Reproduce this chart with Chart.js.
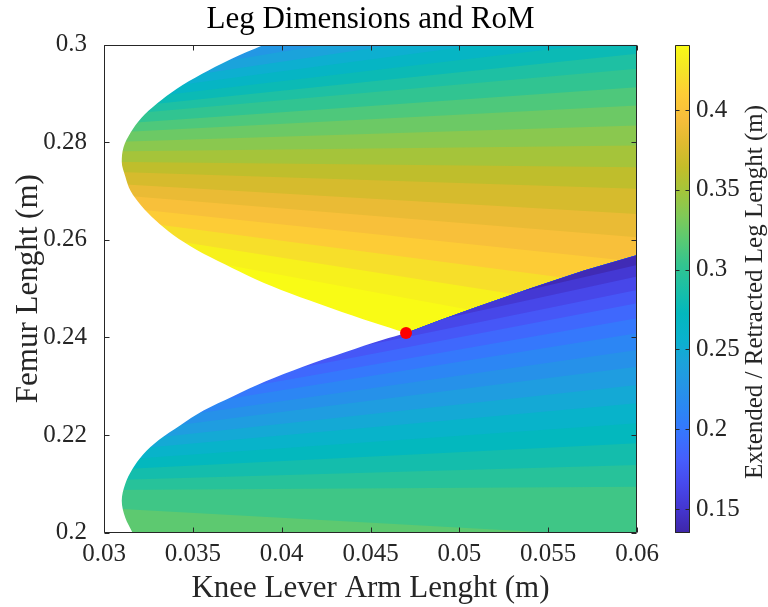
<!DOCTYPE html>
<html>
<head>
<meta charset="utf-8">
<script src="https://cdn.jsdelivr.net/npm/chart.js@4.4.1/dist/chart.umd.min.js"></script>
<style>
  html, body { margin: 0; padding: 0; background: #ffffff; }
  #wrap { position: relative; width: 768px; height: 607px; overflow: hidden; }
  #main { position: absolute; left: 0; top: 0; }
  #cbar { position: absolute; left: 640px; top: 0; }
</style>
</head>
<body>
<div id="wrap">
  <canvas id="main" width="768" height="607"></canvas>
  <canvas id="cbar" width="128" height="607"></canvas>
</div>
<script>
// ---------------- data ----------------
const xMin = 0.03, xMax = 0.06, yMin = 0.2, yMax = 0.3;
const xTickValues = [0.03, 0.035, 0.04, 0.045, 0.05, 0.055, 0.06];
const yTickValues = [0.2, 0.22, 0.24, 0.26, 0.28, 0.3];
const cbarMin = 0.135, cbarMax = 0.4407;
const cbarTicks = [0.15, 0.2, 0.25, 0.3, 0.35, 0.4];

// x positions where each iso-band edge is read (left and right side of the axes)
const xEdges = [0.03, 0.06];

// upper region (long femur): iso-band edges, y at x=0.03 and at x=0.06
const upperYAt003 = [0.2940, 0.2926, 0.2911, 0.2897, 0.2882, 0.2868, 0.2854, 0.2836, 0.2819, 0.2800,
                     0.2781, 0.2760, 0.2740, 0.2716, 0.2694, 0.2670, 0.2646, 0.2621, 0.2595];
const upperYAt006 = [0.3136, 0.3105, 0.3074, 0.3043, 0.3012, 0.29815, 0.29508, 0.29132, 0.28755, 0.28345,
                     0.27935, 0.27491, 0.27046, 0.26533, 0.26055, 0.2555, 0.2503, 0.2449, 0.2393];
// leg-length value of the band just below each upper edge
const upperBandValues = [0.230, 0.242, 0.254, 0.266, 0.278, 0.290, 0.302, 0.314, 0.326, 0.338,
                         0.350, 0.362, 0.374, 0.386, 0.398, 0.410, 0.422, 0.434, 0.441];
const upperTopValue = 0.218;

// lower region (short femur): iso-band edges, y at x=0.03 and at x=0.06
const lowerYAt003 = [0.2298, 0.2287, 0.2274, 0.2261, 0.2247, 0.2233, 0.2217, 0.2201, 0.2183, 0.2166,
                     0.2147, 0.2128, 0.2107, 0.2087, 0.2050];
const lowerYAt006 = [0.25487, 0.25247, 0.24974, 0.24702, 0.24394, 0.24086, 0.23744, 0.23401, 0.23026, 0.22650,
                     0.22240, 0.21830, 0.21385, 0.20940, 0.1990];
// leg-length value of the band just above each lower edge
const lowerBandValues = [0.140, 0.152, 0.164, 0.176, 0.188, 0.200, 0.212, 0.224, 0.236, 0.248,
                         0.260, 0.272, 0.284, 0.296, 0.308];
const lowerBottomValue = 0.320;

// curve separating the two regions
const sepX = [0.030, 0.040, 0.045, 0.047, 0.049, 0.051, 0.054, 0.057, 0.060];
const sepY = [0.232, 0.237, 0.2400, 0.2409, 0.2437, 0.2463, 0.2501, 0.2537, 0.2569];

// left edge of the feasible region, lower lobe (femur length -> knee lever arm)
const edgeLowY = [0.200, 0.203, 0.2065, 0.210, 0.213, 0.216, 0.219, 0.222, 0.225, 0.228, 0.231, 0.234, 0.237, 0.2395, 0.2409];
const edgeLowX = [0.0316, 0.0312, 0.0310, 0.0312, 0.0316, 0.0322, 0.0331, 0.0343, 0.0356, 0.0373, 0.0391, 0.0412, 0.0436, 0.0457, 0.0470];
// left edge of the feasible region, upper lobe
const edgeHighY = [0.2409, 0.243, 0.246, 0.249, 0.252, 0.255, 0.258, 0.261, 0.264, 0.267, 0.270, 0.273, 0.276,
                   0.279, 0.282, 0.285, 0.288, 0.291, 0.294, 0.297, 0.300];
const edgeHighX = [0.0470, 0.0452, 0.0428, 0.0405, 0.0385, 0.0368, 0.0352, 0.0339, 0.0329, 0.0321, 0.0315, 0.0312, 0.0310,
                   0.0311, 0.0315, 0.0321, 0.0330, 0.0341, 0.0355, 0.0371, 0.0390];

// chosen design point
const optimumX = 0.047, optimumY = 0.2409;

// ---------------- colormap (parula) ----------------
const PARULA = [
  [62,38,168],[68,54,208],[71,73,236],[70,94,252],[56,115,254],[44,133,245],[37,148,231],
  [27,163,219],[9,178,205],[3,184,189],[26,191,166],[51,196,143],[89,201,115],[128,201,87],
  [163,196,59],[196,189,41],[224,186,48],[247,189,59],[253,204,54],[245,229,38],[249,251,21]
];
function parulaT(t) {
  t = Math.max(0, Math.min(1, t));
  const f = t * (PARULA.length - 1);
  const i = Math.min(PARULA.length - 2, Math.floor(f));
  const w = f - i, a = PARULA[i], b = PARULA[i + 1];
  return 'rgb(' + Math.round(a[0] + (b[0] - a[0]) * w) + ',' + Math.round(a[1] + (b[1] - a[1]) * w) + ',' + Math.round(a[2] + (b[2] - a[2]) * w) + ')';
}
function parula(v) { return parulaT((v - cbarMin) / (cbarMax - cbarMin)); }

const fmt = v => String(parseFloat(Number(v).toFixed(4)));
const FONT = "'Liberation Serif', 'Times New Roman', serif";
Chart.defaults.font.family = FONT;
Chart.defaults.color = '#262626';

const NONE = 'rgba(0,0,0,0)';
const lineBase = { type: 'line', pointRadius: 0, pointHoverRadius: 0, borderWidth: 0, tension: 0, borderColor: NONE };
const pts = (xs, ys) => xs.map((x, i) => ({ x: x, y: ys[i] }));

// ---------------- datasets (in drawing sequence) ----------------
const datasets = [];
datasets.push(Object.assign({}, lineBase, { label: 'separation', data: pts(sepX, sepY), fill: false }));
const SEP = 0;

datasets.push(Object.assign({}, lineBase, {
  label: 'upper top band', data: pts(xEdges, [yMax, yMax]),
  backgroundColor: parula(upperTopValue),
  fill: { target: SEP, above: parula(upperTopValue), below: NONE }
}));
upperYAt003.forEach((y0, k) => {
  const c = parula(upperBandValues[k]);
  datasets.push(Object.assign({}, lineBase, {
    label: 'upper ' + k, data: pts(xEdges, [y0, upperYAt006[k]]),
    backgroundColor: c, fill: { target: SEP, above: c, below: NONE }
  }));
});

datasets.push(Object.assign({}, lineBase, {
  label: 'lower bottom band', data: pts(xEdges, [yMin, yMin]),
  backgroundColor: parula(lowerBottomValue),
  fill: { target: SEP, above: NONE, below: parula(lowerBottomValue) }
}));
for (let k = lowerYAt003.length - 1; k >= 0; k--) {
  const c = parula(lowerBandValues[k]);
  datasets.push(Object.assign({}, lineBase, {
    label: 'lower ' + k, data: pts(xEdges, [lowerYAt003[k], lowerYAt006[k]]),
    backgroundColor: c, fill: { target: SEP, above: NONE, below: c }
  }));
}

// white area outside the feasible region (left of its edge), one per lobe
[[edgeLowX, edgeLowY], [edgeHighX, edgeHighY]].forEach(([xs, ys], j) => {
  datasets.push(Object.assign({}, lineBase, {
    label: 'infeasible ' + j, indexAxis: 'y', data: pts(xs, ys),
    cubicInterpolationMode: 'monotone',
    backgroundColor: '#ffffff', fill: { value: xMin }
  }));
});

// red design point
datasets.push({
  type: 'line', label: 'design point', showLine: false, data: [{ x: optimumX, y: optimumY }],
  pointRadius: 6, pointHoverRadius: 6, pointBackgroundColor: '#ff0000', pointBorderColor: '#ff0000',
  pointBorderWidth: 0, borderColor: '#ff0000', backgroundColor: '#ff0000'
});
datasets.forEach((d, i) => { d.order = datasets.length - i; });

// box + inward ticks (MATLAB style axes)
const boxPlugin = {
  id: 'boxTicks',
  afterDatasetsDraw(chart) {
    const { ctx, chartArea: a, scales } = chart;
    const L = Math.round(a.left) + 0.5, R = Math.round(a.right) - 0.5;
    const T = Math.round(a.top) + 0.5, B = Math.round(a.bottom) - 0.5;
    ctx.save();
    ctx.strokeStyle = '#262626';
    ctx.lineWidth = 1;
    ctx.beginPath();
    ctx.rect(L, T, R - L, B - T);
    const tl = 5;
    scales.x.ticks.forEach(t => {
      const px = Math.round(scales.x.getPixelForValue(t.value)) + 0.5;
      ctx.moveTo(px, B); ctx.lineTo(px, B - tl);
      ctx.moveTo(px, T); ctx.lineTo(px, T + tl);
    });
    scales.y.ticks.forEach(t => {
      const py = Math.round(scales.y.getPixelForValue(t.value)) + 0.5;
      ctx.moveTo(L, py); ctx.lineTo(L + tl, py);
      ctx.moveTo(R, py); ctx.lineTo(R - tl, py);
    });
    ctx.stroke();
    ctx.restore();
  }
};

new Chart(document.getElementById('main'), {
  type: 'line',
  data: { datasets: datasets },
  options: {
    responsive: false,
    animation: false,
    events: [],
    layout: { padding: { left: 0, right: 131, top: 0, bottom: 0 } },
    plugins: {
      legend: { display: false },
      tooltip: { enabled: false },
      title: {
        display: true, text: 'Leg Dimensions and RoM', fullSize: false, color: '#000000',
        font: { size: 31, weight: 'normal', lineHeight: 1.2 }, padding: { top: 1, bottom: 6.6 }
      }
    },
    scales: {
      x: {
        type: 'linear', min: xMin, max: xMax,
        afterBuildTicks: s => { s.ticks = xTickValues.map(v => ({ value: v })); },
        afterFit: s => { s.height = 74.5; },
        grid: { display: false }, border: { display: false },
        ticks: { padding: -1, font: { size: 25 }, color: '#262626', callback: v => fmt(v), maxRotation: 0, autoSkip: false },
        title: { display: true, text: 'Knee Lever Arm Lenght (m)', color: '#262626', font: { size: 31, lineHeight: 1.2 }, padding: { top: 0, bottom: 0 } }
      },
      y: {
        type: 'linear', min: yMin, max: yMax,
        afterBuildTicks: s => { s.ticks = yTickValues.map(v => ({ value: v })); },
        afterFit: s => { s.width = 104; },
        grid: { display: false }, border: { display: false },
        ticks: { padding: 9, font: { size: 25 }, color: '#262626', callback: v => fmt(v), autoSkip: false },
        title: { display: true, text: 'Femur Lenght (m)', color: '#262626', font: { size: 31, lineHeight: 1.2 }, padding: { top: 10, bottom: 0 } }
      }
    }
  },
  plugins: [boxPlugin]
});

// ---------------- colorbar ----------------
const cbarLabel = 'Extended / Retracted Leg Lenght (m)';
const cbarPlugin = {
  id: 'cbarBox',
  afterDatasetsDraw(chart) {
    const { ctx, chartArea: a, scales } = chart;
    const L = Math.round(a.left) + 0.5, R = Math.round(a.right) - 0.5;
    const T = Math.round(a.top) + 0.5, B = Math.round(a.bottom) - 0.5;
    ctx.save();
    ctx.strokeStyle = '#262626';
    ctx.lineWidth = 1;
    ctx.beginPath();
    ctx.rect(L, T, R - L, B - T);
    scales.y.ticks.forEach(t => {
      const py = Math.round(scales.y.getPixelForValue(t.value)) + 0.5;
      ctx.moveTo(R, py); ctx.lineTo(R - 4, py);
      ctx.moveTo(L, py); ctx.lineTo(L + 4, py);
    });
    ctx.stroke();
    ctx.restore();
  },
  afterDraw(chart) {
    const { ctx, chartArea: a } = chart;
    ctx.save();
    ctx.translate(115, (a.top + a.bottom) / 2 + 3);
    ctx.rotate(-Math.PI / 2);
    ctx.font = '25px ' + FONT;
    ctx.fillStyle = '#262626';
    ctx.textAlign = 'center';
    ctx.textBaseline = 'middle';
    ctx.fillText(cbarLabel, 0, 0);
    ctx.restore();
  }
};

new Chart(document.getElementById('cbar'), {
  type: 'bar',
  data: {
    labels: [''],
    datasets: [{
      data: [[cbarMin, cbarMax]],
      borderWidth: 0,
      barPercentage: 1,
      categoryPercentage: 1,
      backgroundColor: (context) => {
        const ch = context.chart;
        const a = ch.chartArea;
        if (!a) return parula((cbarMin + cbarMax) / 2);
        const g = ch.ctx.createLinearGradient(0, a.bottom, 0, a.top);
        PARULA.forEach((c, i) => g.addColorStop(i / (PARULA.length - 1), 'rgb(' + c.join(',') + ')'));
        return g;
      }
    }]
  },
  options: {
    responsive: false,
    animation: false,
    events: [],
    layout: { padding: { left: 35, right: 0, top: 45, bottom: 74 } },
    plugins: { legend: { display: false }, tooltip: { enabled: false } },
    scales: {
      x: { display: false },
      y: {
        position: 'right', min: cbarMin, max: cbarMax,
        afterBuildTicks: s => { s.ticks = cbarTicks.map(v => ({ value: v })); },
        afterFit: s => { s.width = 78; },
        grid: { display: false }, border: { display: false },
        ticks: { padding: -2, font: { size: 25 }, color: '#262626', callback: v => fmt(v), autoSkip: false }
      }
    }
  },
  plugins: [cbarPlugin]
});
</script>
</body>
</html>
